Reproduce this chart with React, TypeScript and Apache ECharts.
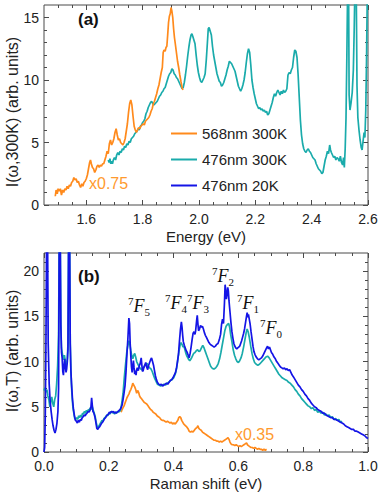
import React, { useEffect, useRef } from 'react';
import * as echarts from 'echarts';

// ---------- tick values ----------
const energyTicks = [1.6, 1.8, 2.0, 2.2, 2.4, 2.6];
const energyMinor = [1.5, 1.55, 1.65, 1.7, 1.75, 1.85, 1.9, 1.95, 2.05, 2.1, 2.15, 2.25, 2.3, 2.35, 2.45, 2.5, 2.55];
const intensityATicks = [0, 5, 10, 15];
const intensityAMinor = [1, 2, 3, 4, 6, 7, 8, 9, 11, 12, 13, 14];
const ramanTicks = [0, 0.2, 0.4, 0.6, 0.8, 1.0];
const ramanMinor = [0.05, 0.1, 0.15, 0.25, 0.3, 0.35, 0.45, 0.5, 0.55, 0.65, 0.7, 0.75, 0.85, 0.9, 0.95];
const intensityBTicks = [0, 5, 10, 15, 20];
const intensityBMinor = [1, 2, 3, 4, 6, 7, 8, 9, 11, 12, 13, 14, 16, 17, 18, 19, 21];

const seriesNames = ['568nm 300K', '476nm 300K', '476nm 20K'];

// ---------- panel (a): luminescence, energy (eV) ----------
const orange568A: [number, number][] = [
  [1.490,0.7],[1.493,1.2],[1.497,0.9],[1.500,1.3],[1.504,1.1],[1.508,1.3],[1.512,0.8],[1.516,1.2],[1.520,1.0],[1.524,1.3],
  [1.528,1.2],[1.532,1.5],[1.536,1.3],[1.540,1.6],[1.544,1.5],[1.548,1.8],[1.552,1.9],[1.556,2.2],[1.560,2.0],[1.564,2.1],
  [1.568,1.8],[1.572,1.9],[1.576,1.6],[1.580,1.4],[1.584,1.7],[1.588,1.5],[1.592,1.8],[1.596,1.9],[1.600,2.1],[1.604,2.4],
  [1.608,2.9],[1.612,3.4],[1.615,3.6],[1.618,3.3],[1.622,3.0],[1.626,2.9],[1.630,2.6],[1.634,2.8],[1.638,3.1],[1.642,3.2],
  [1.646,3.0],[1.650,3.2],[1.654,3.1],[1.658,3.3],[1.662,3.3],[1.666,3.6],[1.670,3.9],[1.674,4.3],[1.678,4.1],[1.682,4.9],
  [1.686,5.2],[1.690,4.8],[1.694,5.0],[1.698,5.3],[1.702,5.8],[1.706,6.1],[1.710,5.6],[1.714,5.2],[1.718,5.3],[1.722,5.0],
  [1.726,4.9],[1.730,4.8],[1.734,5.0],[1.738,5.3],[1.742,5.9],[1.746,6.5],[1.750,7.4],[1.754,8.1],[1.758,8.4],[1.762,8.0],
  [1.766,7.1],[1.770,6.3],[1.774,6.0],[1.778,5.8],[1.782,6.0],[1.786,6.2],[1.790,6.1],[1.794,6.3],[1.798,6.4],[1.802,6.5],
  [1.806,6.4],[1.810,6.7],[1.814,6.8],[1.818,6.9],[1.822,7.0],[1.826,7.2],[1.830,7.5],[1.834,7.7],[1.838,8.1],[1.842,8.3],
  [1.846,8.6],[1.850,8.9],[1.854,9.3],[1.858,9.6],[1.862,10.1],[1.866,10.6],[1.870,11.0],[1.873,12.2],[1.876,12.4],[1.880,12.3],
  [1.883,12.6],[1.886,12.7],[1.889,13.6],[1.892,14.6],[1.895,15.1],[1.898,15.3],[1.901,15.8],[1.904,15.5],[1.907,15.0],[1.910,14.1],
  [1.913,13.4],[1.916,12.9],[1.920,12.2],[1.924,11.5],[1.928,11.0],[1.932,10.4],[1.936,9.9],[1.940,9.4],[1.943,9.2],
];

const teal476A: [number, number][] = [
  [1.678,3.6],[1.681,3.4],[1.684,3.7],[1.687,3.3],[1.690,3.5],[1.693,3.3],[1.696,3.6],[1.700,3.8],[1.704,3.6],[1.708,4.0],
  [1.712,4.2],[1.716,4.0],[1.720,4.3],[1.724,4.2],[1.728,4.5],[1.732,4.4],[1.736,4.7],[1.740,4.6],[1.744,4.9],[1.748,4.8],
  [1.752,5.1],[1.756,5.0],[1.760,5.3],[1.764,5.4],[1.768,5.5],[1.772,5.7],[1.776,5.8],[1.780,5.9],[1.784,6.1],[1.788,6.0],
  [1.792,6.3],[1.796,6.4],[1.800,6.6],[1.804,6.7],[1.808,6.9],[1.812,7.3],[1.816,7.5],[1.820,7.8],[1.824,8.0],[1.828,8.2],
  [1.832,8.3],[1.836,8.1],[1.840,8.0],[1.844,8.1],[1.848,8.2],[1.852,8.3],[1.856,8.5],[1.860,8.7],[1.864,8.8],[1.868,9.0],
  [1.872,9.1],[1.876,9.3],[1.880,9.4],[1.884,9.7],[1.888,10.0],[1.892,10.3],[1.896,10.5],[1.900,10.6],[1.904,10.9],[1.908,10.8],
  [1.912,10.5],[1.916,10.4],[1.920,10.2],[1.924,10.1],[1.928,9.9],[1.932,9.7],[1.936,9.5],[1.940,9.3],[1.944,9.4],[1.948,9.8],
  [1.952,10.4],[1.956,11.1],[1.960,11.9],[1.964,12.6],[1.968,13.2],[1.972,13.6],[1.975,13.7],[1.978,13.5],[1.982,13.2],[1.986,12.9],
  [1.990,12.0],[1.994,11.2],[1.998,10.6],[2.002,10.2],[2.006,9.9],[2.010,9.8],[2.014,10.0],[2.018,10.2],[2.022,10.5],[2.026,11.6],
  [2.030,13.0],[2.033,14.1],[2.036,14.2],[2.040,13.9],[2.044,13.6],[2.048,12.7],[2.052,12.0],[2.056,11.5],[2.060,11.0],[2.064,10.5],
  [2.068,10.2],[2.072,9.9],[2.076,9.8],[2.080,9.5],[2.084,9.6],[2.088,9.8],[2.092,10.1],[2.096,10.4],[2.100,10.8],[2.104,11.1],
  [2.108,11.5],[2.112,11.4],[2.116,11.3],[2.120,11.1],[2.124,10.9],[2.128,10.7],[2.132,10.3],[2.136,9.9],[2.140,9.5],[2.144,9.3],
  [2.148,9.1],[2.152,9.3],[2.156,9.6],[2.160,10.0],[2.164,10.6],[2.168,11.4],[2.172,12.1],[2.176,12.5],[2.180,12.2],[2.184,11.2],
  [2.188,10.0],[2.192,9.4],[2.196,8.9],[2.200,8.5],[2.204,8.1],[2.208,7.9],[2.212,7.7],[2.216,7.8],[2.220,7.6],[2.224,7.7],
  [2.228,7.5],[2.232,7.6],[2.236,7.4],[2.240,7.5],[2.244,7.2],[2.248,7.3],[2.252,7.6],[2.256,7.9],[2.260,8.2],[2.264,8.6],
  [2.268,8.9],[2.272,8.7],[2.276,9.0],[2.280,9.2],[2.284,9.0],[2.288,8.8],[2.292,9.1],[2.296,8.9],[2.300,9.2],[2.304,9.0],
  [2.308,9.1],[2.312,9.3],[2.316,10.4],[2.320,10.6],[2.324,10.5],[2.328,10.8],[2.332,11.0],[2.336,11.8],[2.340,12.4],[2.344,12.3],
  [2.348,11.8],[2.352,10.4],[2.356,8.6],[2.360,6.8],[2.364,5.6],[2.368,4.9],[2.372,4.5],[2.376,4.3],[2.380,4.2],[2.384,4.4],
  [2.388,4.5],[2.392,4.3],[2.396,4.2],[2.400,4.0],[2.404,3.8],[2.408,3.7],[2.412,3.6],[2.416,3.3],[2.420,3.1],[2.424,2.9],
  [2.428,2.8],[2.432,2.7],[2.436,2.5],[2.440,2.6],[2.444,3.1],[2.448,3.6],[2.452,3.9],[2.456,4.3],[2.460,4.1],[2.464,4.8],
  [2.467,4.4],[2.470,4.2],[2.474,4.0],[2.478,3.8],[2.482,3.9],[2.486,3.6],[2.490,3.8],[2.494,3.7],[2.498,3.5],[2.502,3.9],
  [2.506,3.4],[2.510,3.2],[2.513,3.8],[2.516,3.0],[2.519,4.5],[2.522,7.0],[2.525,12.0],[2.528,18.0],[2.531,18.0],[2.533,8.8],
  [2.536,7.6],[2.540,8.2],[2.544,9.0],[2.548,10.8],[2.551,14.0],[2.554,18.0],[2.558,18.0],[2.561,9.5],[2.564,7.0],[2.568,6.0],
  [2.572,5.2],[2.576,4.6],[2.579,4.4],[2.582,5.0],[2.586,5.8],[2.589,5.4],[2.592,7.5],[2.595,12.0],[2.598,18.0],
];

// ---------- panel (b): Raman shift (eV) ----------
const orange568B: [number, number][] = [
  [0.238,4.4],[0.241,4.7],[0.244,4.9],[0.247,5.1],[0.250,5.4],[0.253,5.7],[0.256,6.0],[0.259,6.2],[0.262,6.4],[0.265,6.7],
  [0.268,6.9],[0.271,7.2],[0.274,7.6],[0.277,7.4],[0.280,7.2],[0.283,6.9],[0.286,6.5],[0.289,6.8],[0.292,6.6],[0.295,6.2],
  [0.298,6.0],[0.301,5.9],[0.305,5.7],[0.309,5.5],[0.313,5.4],[0.317,5.3],[0.321,5.1],[0.325,4.9],[0.329,4.7],[0.333,4.6],
  [0.337,4.4],[0.341,4.3],[0.345,4.2],[0.349,4.0],[0.353,3.9],[0.357,3.8],[0.361,3.6],[0.365,3.5],[0.369,3.5],[0.373,3.4],
  [0.377,3.3],[0.381,3.4],[0.385,3.3],[0.389,3.2],[0.393,3.3],[0.397,3.1],[0.401,3.2],[0.405,3.1],[0.409,3.3],[0.413,3.5],
  [0.416,3.8],[0.419,3.9],[0.422,3.8],[0.425,3.5],[0.428,3.3],[0.431,3.1],[0.434,3.0],[0.437,2.9],[0.440,2.8],[0.444,2.6],
  [0.448,2.3],[0.452,2.2],[0.456,2.3],[0.460,2.2],[0.464,2.4],[0.468,2.6],[0.472,2.7],[0.475,2.9],[0.478,2.6],[0.481,2.5],
  [0.485,2.4],[0.489,2.2],[0.493,2.1],[0.497,2.0],[0.501,1.9],[0.505,1.8],[0.509,1.7],[0.513,1.6],[0.517,1.5],[0.521,1.4],
  [0.525,1.3],[0.529,1.3],[0.533,1.2],[0.537,1.2],[0.541,1.1],[0.545,1.2],[0.549,1.1],[0.553,1.2],[0.557,1.3],[0.561,1.4],
  [0.565,1.5],[0.568,1.6],[0.571,1.4],[0.574,1.1],[0.577,0.9],[0.581,0.8],[0.585,0.8],[0.589,0.7],[0.593,0.8],[0.597,0.7],
  [0.601,0.6],[0.605,0.7],[0.609,0.6],[0.613,0.7],[0.617,0.8],[0.621,0.9],[0.625,1.0],[0.628,0.8],[0.631,0.7],[0.635,0.6],
  [0.639,0.5],[0.643,0.5],[0.647,0.4],[0.651,0.5],[0.655,0.4],[0.659,0.3],[0.663,0.4],[0.667,0.3],[0.671,0.3],[0.675,0.2],
  [0.679,0.3],[0.683,0.2],[0.687,0.3],
];

const teal476B: [number, number][] = [
  [0.000,6.8],[0.003,7.1],[0.006,6.6],[0.009,6.9],[0.012,6.2],[0.015,5.8],[0.018,5.0],[0.021,5.6],[0.024,6.1],[0.027,5.4],
  [0.030,5.0],[0.033,5.8],[0.036,6.2],[0.039,7.5],[0.042,9.5],[0.045,13.0],[0.047,24.0],[0.050,24.0],[0.052,14.0],[0.054,11.5],
  [0.057,10.8],[0.060,10.2],[0.063,10.7],[0.066,10.0],[0.069,9.6],[0.072,10.3],[0.074,12.0],[0.076,24.0],[0.079,24.0],[0.081,12.0],
  [0.083,9.0],[0.086,6.5],[0.089,5.0],[0.092,4.3],[0.095,3.7],[0.098,3.6],[0.101,3.8],[0.104,3.6],[0.107,4.0],[0.110,3.8],
  [0.113,4.1],[0.116,3.9],[0.119,4.3],[0.122,4.2],[0.125,4.5],[0.128,4.3],[0.131,4.6],[0.134,4.4],[0.137,4.7],[0.140,4.6],
  [0.143,4.9],[0.146,4.7],[0.149,5.0],[0.152,4.6],[0.155,4.3],[0.158,3.9],[0.161,3.3],[0.164,2.8],[0.167,2.7],[0.170,2.9],
  [0.173,3.1],[0.176,3.3],[0.179,3.5],[0.182,3.4],[0.185,3.7],[0.188,3.8],[0.191,3.9],[0.194,4.1],[0.197,4.0],[0.200,4.3],
  [0.203,4.2],[0.206,4.4],[0.209,4.5],[0.212,4.3],[0.215,4.4],[0.218,4.2],[0.221,4.4],[0.224,4.3],[0.227,4.5],[0.230,4.4],
  [0.233,4.5],[0.236,4.6],[0.240,5.4],[0.244,6.5],[0.248,8.3],[0.252,9.8],[0.256,11.2],[0.259,11.8],[0.262,12.3],[0.265,11.9],
  [0.268,11.2],[0.271,10.6],[0.274,10.3],[0.277,10.7],[0.280,10.9],[0.283,10.5],[0.286,10.0],[0.290,9.7],[0.294,9.4],[0.298,9.2],
  [0.302,9.1],[0.306,9.3],[0.310,9.5],[0.314,9.7],[0.318,9.8],[0.322,9.5],[0.326,9.3],[0.330,9.2],[0.334,8.9],[0.338,8.5],
  [0.342,8.1],[0.346,7.8],[0.350,7.5],[0.355,7.4],[0.360,7.3],[0.365,7.4],[0.370,7.5],[0.375,7.4],[0.380,7.6],[0.385,7.7],
  [0.390,7.9],[0.395,8.0],[0.400,8.2],[0.405,8.6],[0.409,9.2],[0.413,10.2],[0.417,11.2],[0.420,11.8],[0.423,12.1],[0.426,11.9],
  [0.429,11.6],[0.432,11.7],[0.435,11.3],[0.438,10.9],[0.441,10.6],[0.444,10.4],[0.447,10.2],[0.450,10.1],[0.454,10.3],[0.458,10.6],
  [0.462,10.9],[0.466,11.0],[0.470,11.2],[0.474,11.3],[0.478,11.1],[0.482,11.2],[0.486,11.5],[0.490,11.8],[0.494,11.5],[0.498,11.1],
  [0.502,10.7],[0.506,10.3],[0.510,9.9],[0.514,9.5],[0.518,9.3],[0.522,9.2],[0.526,9.2],[0.530,9.3],[0.534,9.5],[0.538,9.8],
  [0.542,10.3],[0.546,11.0],[0.550,11.8],[0.554,12.6],[0.558,13.4],[0.562,13.9],[0.566,14.1],[0.570,14.2],[0.573,13.8],[0.576,13.0],
  [0.580,12.2],[0.584,11.3],[0.588,10.7],[0.592,10.3],[0.596,10.0],[0.600,9.9],[0.604,10.1],[0.608,10.4],[0.612,10.9],[0.616,11.6],
  [0.620,12.4],[0.624,13.2],[0.627,13.6],[0.630,13.3],[0.634,12.6],[0.638,11.7],[0.642,10.9],[0.646,10.3],[0.650,9.9],[0.655,9.7],
  [0.660,9.6],[0.665,9.7],[0.670,9.9],[0.675,10.1],[0.680,10.3],[0.685,10.5],[0.690,10.6],[0.695,10.4],[0.700,10.1],[0.705,9.8],
  [0.710,9.5],[0.715,9.2],[0.720,8.9],[0.725,8.6],[0.730,8.4],[0.735,8.2],[0.740,8.1],[0.745,8.0],[0.750,7.9],[0.755,7.7],
  [0.760,7.6],[0.765,7.4],[0.770,7.2],[0.775,6.9],[0.780,6.7],[0.785,6.4],[0.790,6.2],[0.795,5.9],[0.800,5.7],[0.805,5.5],
  [0.810,5.3],[0.815,5.1],[0.820,5.0],[0.825,4.8],[0.830,4.9],[0.835,4.6],[0.840,4.7],[0.845,4.4],[0.850,4.5],[0.855,4.3],
  [0.860,4.4],[0.865,4.1],[0.870,4.2],[0.875,4.0],[0.880,4.1],[0.885,3.8],[0.890,3.9],[0.895,3.6],[0.900,3.7],[0.905,3.5],
  [0.910,3.6],[0.915,3.3],[0.920,3.4],
];

const blue476B: [number, number][] = [
  [0.000,0.0],[0.002,0.5],[0.004,4.0],[0.006,12.0],[0.008,24.0],[0.011,24.0],[0.013,12.0],[0.016,7.5],[0.019,5.6],[0.022,4.5],
  [0.025,3.6],[0.028,2.9],[0.031,2.4],[0.034,2.1],[0.037,2.5],[0.040,3.2],[0.043,4.5],[0.045,7.0],[0.047,24.0],[0.050,24.0],
  [0.052,14.0],[0.054,11.0],[0.056,10.4],[0.058,8.9],[0.060,8.5],[0.062,9.6],[0.064,10.3],[0.066,9.4],[0.068,8.8],[0.070,9.2],
  [0.072,10.0],[0.074,11.4],[0.076,24.0],[0.079,24.0],[0.081,12.0],[0.083,9.0],[0.085,7.5],[0.088,5.8],[0.091,4.7],[0.094,4.0],
  [0.097,3.5],[0.100,3.4],[0.103,3.2],[0.106,3.5],[0.109,3.3],[0.112,3.6],[0.115,3.5],[0.118,3.8],[0.121,3.9],[0.124,4.1],
  [0.127,4.0],[0.130,4.2],[0.133,4.3],[0.136,4.5],[0.139,4.4],[0.142,4.6],[0.145,5.0],[0.147,6.0],[0.149,5.2],[0.151,4.5],
  [0.154,4.3],[0.157,3.9],[0.160,3.3],[0.163,2.6],[0.166,2.5],[0.169,2.7],[0.172,2.8],[0.175,3.0],[0.178,3.2],[0.181,3.3],
  [0.184,3.5],[0.187,3.7],[0.190,3.8],[0.193,4.0],[0.196,4.1],[0.199,4.2],[0.202,4.4],[0.205,4.3],[0.208,4.5],[0.211,4.4],
  [0.214,4.5],[0.217,4.3],[0.220,4.4],[0.223,4.3],[0.226,4.4],[0.229,4.5],[0.232,4.6],[0.235,4.7],[0.238,4.9],[0.241,5.2],
  [0.244,5.8],[0.247,6.5],[0.250,7.3],[0.253,8.8],[0.256,10.8],[0.259,12.6],[0.262,14.8],[0.264,14.2],[0.266,12.0],[0.268,10.6],
  [0.270,9.4],[0.272,8.8],[0.274,9.5],[0.276,10.1],[0.278,9.3],[0.280,8.6],[0.282,9.0],[0.284,8.5],[0.286,9.1],[0.288,9.3],
  [0.291,9.0],[0.294,9.5],[0.297,9.8],[0.300,10.4],[0.302,9.6],[0.304,8.9],[0.306,9.0],[0.308,9.3],[0.311,9.6],[0.314,9.9],
  [0.317,9.4],[0.320,9.1],[0.323,9.6],[0.326,9.9],[0.329,10.2],[0.332,10.4],[0.335,10.0],[0.338,9.6],[0.341,9.0],[0.344,8.4],
  [0.347,8.0],[0.350,7.7],[0.354,7.5],[0.358,7.4],[0.362,7.5],[0.366,7.3],[0.370,7.4],[0.374,7.5],[0.378,7.6],[0.382,7.5],
  [0.386,7.7],[0.390,7.9],[0.394,8.0],[0.398,8.2],[0.402,8.5],[0.406,8.8],[0.409,9.3],[0.412,10.0],[0.415,10.8],[0.418,12.2],
  [0.421,13.5],[0.424,14.4],[0.426,13.8],[0.428,12.9],[0.430,12.2],[0.433,11.8],[0.436,11.5],[0.439,11.2],[0.442,11.0],[0.445,10.7],
  [0.448,10.4],[0.451,10.9],[0.454,11.6],[0.457,12.4],[0.460,13.1],[0.463,13.3],[0.466,13.0],[0.468,13.4],[0.471,14.5],[0.473,15.1],
  [0.475,14.2],[0.477,13.4],[0.480,13.6],[0.483,14.0],[0.486,13.8],[0.489,13.9],[0.492,13.6],[0.495,13.2],[0.498,12.9],[0.501,12.7],
  [0.505,12.4],[0.509,12.1],[0.513,11.9],[0.517,11.8],[0.521,11.7],[0.525,11.6],[0.529,11.7],[0.533,11.9],[0.537,12.0],[0.541,12.4],
  [0.545,13.0],[0.548,14.1],[0.551,14.7],[0.554,14.2],[0.557,16.5],[0.559,18.5],[0.561,17.8],[0.563,16.9],[0.565,17.4],[0.567,18.2],
  [0.569,17.8],[0.571,16.7],[0.574,15.5],[0.577,14.3],[0.580,13.3],[0.583,12.6],[0.586,12.0],[0.589,11.7],[0.592,11.5],[0.595,11.4],
  [0.598,11.5],[0.601,11.6],[0.604,11.7],[0.607,12.0],[0.610,12.3],[0.613,12.7],[0.616,13.1],[0.619,13.6],[0.622,14.3],[0.625,15.0],
  [0.627,15.4],[0.629,14.9],[0.631,15.2],[0.633,14.8],[0.636,14.2],[0.639,13.3],[0.642,12.5],[0.645,11.7],[0.648,11.1],[0.651,10.8],
  [0.655,10.5],[0.659,10.3],[0.663,10.2],[0.667,10.3],[0.671,10.4],[0.675,10.6],[0.679,10.9],[0.683,11.2],[0.687,11.5],[0.690,11.7],
  [0.693,11.4],[0.696,11.6],[0.699,11.3],[0.702,11.0],[0.706,10.8],[0.710,10.5],[0.714,10.3],[0.718,10.0],[0.722,9.8],[0.726,9.6],
  [0.730,9.4],[0.734,9.3],[0.738,9.2],[0.742,9.3],[0.746,9.1],[0.750,9.2],[0.754,9.0],[0.758,9.1],[0.762,8.8],[0.766,8.5],
  [0.770,8.3],[0.775,8.0],[0.780,7.7],[0.785,7.4],[0.790,7.2],[0.795,6.9],[0.800,6.7],[0.805,6.4],[0.810,6.2],[0.815,5.9],
  [0.820,5.7],[0.825,5.4],[0.830,5.2],[0.835,5.0],[0.840,4.9],[0.845,4.7],[0.850,4.6],[0.855,4.5],[0.860,4.3],[0.865,4.3],
  [0.870,4.1],[0.875,4.0],[0.880,3.9],[0.885,3.8],[0.890,3.8],[0.895,3.6],[0.900,3.6],[0.905,3.5],[0.910,3.4],[0.915,3.3],
  [0.920,3.2],[0.925,3.1],[0.930,2.9],[0.935,2.8],[0.940,2.7],[0.945,2.6],[0.950,2.5],[0.955,2.5],[0.960,2.3],[0.965,2.3],
  [0.970,2.2],[0.975,2.1],[0.980,2.0],[0.985,1.9],[0.990,1.8],[0.995,1.6],[1.000,1.5],
];

const ORANGE = '#ff8a1c';
const TEAL = '#1aabab';
const BLUE = '#1414e6';
const FRAME = '#4a4a4a';
const SANS = '"Liberation Sans", Arial, Helvetica, sans-serif';
const SERIF = '"Liberation Serif", "Times New Roman", serif';

const GA = { left: 44, top: 5, width: 324, height: 200 };
const GB = { left: 44, top: 253, width: 324, height: 199 };

function xAxis(gridIndex: number, min: number, max: number, position: string, ticks: number[], len: number, labels?: number[], name?: string) {
  return {
    type: 'value', gridIndex, min, max, position,
    name: name || '', nameLocation: 'middle', nameGap: 24,
    nameTextStyle: { fontFamily: SANS, fontSize: 15, color: '#222' },
    axisLine: { show: false, onZero: false },
    splitLine: { show: false },
    axisTick: { show: true, inside: true, length: len, customValues: ticks, lineStyle: { color: FRAME, width: 1 } },
    axisLabel: labels
      ? { show: true, customValues: labels, margin: 7, lineHeight: 14, fontFamily: SANS, fontSize: 14, color: '#222', formatter: (v: number) => v.toFixed(1) }
      : { show: false },
  };
}

function yAxis(gridIndex: number, min: number, max: number, position: string, ticks: number[], len: number, labels?: number[]) {
  return {
    type: 'value', gridIndex, min, max, position,
    axisLine: { show: false, onZero: false },
    splitLine: { show: false },
    axisTick: { show: true, inside: true, length: len, customValues: ticks, lineStyle: { color: FRAME, width: 1 } },
    axisLabel: labels
      ? { show: true, customValues: labels, margin: 5, lineHeight: 14, fontFamily: SANS, fontSize: 14, color: '#222', formatter: (v: number) => String(v) }
      : { show: false },
  };
}

function line(name: string, color: string, data: [number, number][], axisIndex: number, z: number) {
  return {
    type: 'line', name, data, xAxisIndex: axisIndex, yAxisIndex: axisIndex,
    showSymbol: false, symbol: 'none', clip: true, z,
    lineStyle: { color, width: 1.7 }, itemStyle: { color },
  };
}

function level(sub: string, x: number, y: number) {
  return {
    type: 'text', left: x, top: y,
    style: {
      text: `{s|7}{f|F}{b|${sub}}`,
      rich: {
        s: { fontFamily: SERIF, fontSize: 11, fill: '#111', verticalAlign: 'top', lineHeight: 22 },
        f: { fontFamily: SERIF, fontStyle: 'italic', fontSize: 18, fill: '#111', lineHeight: 22 },
        b: { fontFamily: SERIF, fontSize: 11, fill: '#111', verticalAlign: 'bottom', lineHeight: 22 },
      },
    },
  };
}

function yName(text: string, x: number, y: number) {
  return {
    type: 'text', x, y, rotation: Math.PI / 2,
    style: { text, fontFamily: SANS, fontSize: 16, fill: '#222', align: 'center', verticalAlign: 'middle' },
  };
}

export default function App() {
  const ref = useRef<HTMLDivElement>(null);
  useEffect(() => {
    document.body.style.margin = '0';
    const chart = echarts.init(ref.current!, null, { renderer: 'svg' });
    chart.setOption({
      animation: false,
      backgroundColor: '#ffffff',
      grid: [
        { ...GA, show: true, borderColor: FRAME, borderWidth: 1, backgroundColor: 'transparent' },
        { ...GB, show: true, borderColor: FRAME, borderWidth: 1, backgroundColor: 'transparent' },
        { ...GA, show: false },
        { ...GB, show: false },
      ],
      xAxis: [
        xAxis(0, 1.45, 2.6, 'bottom', energyTicks, 5, energyTicks, 'Energy (eV)'),
        xAxis(0, 1.45, 2.6, 'top', energyTicks, 5),
        xAxis(1, 0, 1, 'bottom', ramanTicks, 5, ramanTicks, 'Raman shift (eV)'),
        xAxis(1, 0, 1, 'top', ramanTicks, 5),
        xAxis(2, 1.45, 2.6, 'bottom', energyMinor, 3),
        xAxis(2, 1.45, 2.6, 'top', energyMinor, 3),
        xAxis(3, 0, 1, 'bottom', ramanMinor, 3),
        xAxis(3, 0, 1, 'top', ramanMinor, 3),
      ],
      yAxis: [
        yAxis(0, 0, 16, 'left', intensityATicks, 5, intensityATicks),
        yAxis(0, 0, 16, 'right', intensityATicks, 5),
        yAxis(1, 0, 22, 'left', intensityBTicks, 5, intensityBTicks),
        yAxis(1, 0, 22, 'right', intensityBTicks, 5),
        yAxis(2, 0, 16, 'left', intensityAMinor, 3),
        yAxis(2, 0, 16, 'right', intensityAMinor, 3),
        yAxis(3, 0, 22, 'left', intensityBMinor, 3),
        yAxis(3, 0, 22, 'right', intensityBMinor, 3),
      ],
      legend: {
        data: seriesNames,
        orient: 'vertical', left: 166, top: 121,
        icon: 'rect', itemWidth: 26, itemHeight: 2, itemGap: 11,
        textStyle: { fontFamily: SANS, fontSize: 15, color: '#222' },
        selectedMode: false,
      },
      series: [
        line(seriesNames[1], TEAL, teal476A, 0, 2),
        line(seriesNames[0], ORANGE, orange568A, 0, 3),
        line(seriesNames[0], ORANGE, orange568B, 2, 2),
        line(seriesNames[1], TEAL, teal476B, 2, 3),
        line(seriesNames[2], BLUE, blue476B, 2, 4),
      ],
      graphic: [
        yName('I(\u03c9,300K) (arb. units)', 12, 112),
        yName('I(\u03c9,T) (arb. units)', 12, 351),
        { type: 'text', left: 78, top: 11, style: { text: '(a)', fontFamily: SANS, fontWeight: 'bold', fontSize: 17, fill: '#111' } },
        { type: 'text', left: 78, top: 268, style: { text: '(b)', fontFamily: SANS, fontWeight: 'bold', fontSize: 17, fill: '#111' } },
        { type: 'text', left: 89, top: 175, style: { text: 'x0.75', fontFamily: SANS, fontSize: 16, fill: '#ff9a2e' } },
        { type: 'text', left: 235, top: 426, style: { text: 'x0.35', fontFamily: SANS, fontSize: 16, fill: '#ff9a2e' } },
        level('5', 128, 295),
        level('4', 165, 292),
        level('3', 187, 292),
        level('2', 212, 265),
        level('1', 237, 292),
        level('0', 260, 317),
      ],
    });
    return () => chart.dispose();
  }, []);
  return <div ref={ref} style={{ width: 382, height: 495 }} />;
}
